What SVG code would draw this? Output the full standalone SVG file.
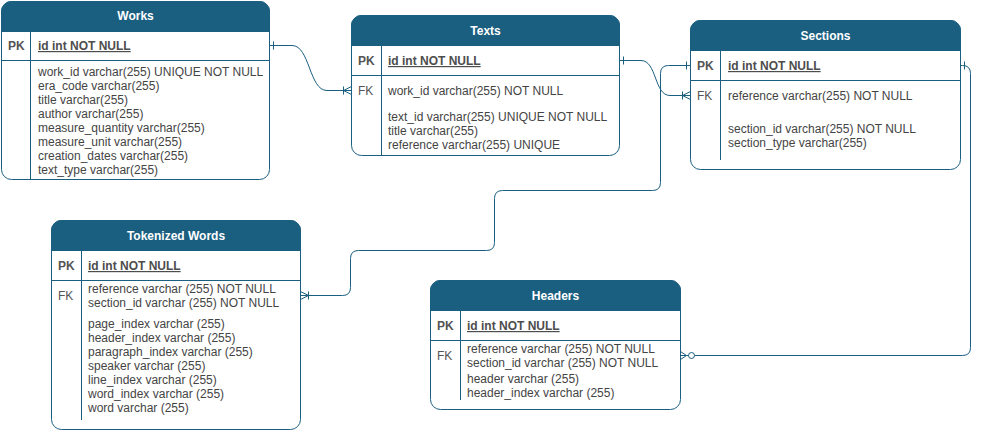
<svg xmlns="http://www.w3.org/2000/svg" width="981" height="431" viewBox="0 0 981 431">
<style>
.box{fill:#ffffff;stroke:#1a5e80;stroke-width:1}
.hdr{fill:#1a5e80;stroke:#1a5e80;stroke-width:1}
.ln{stroke:#1a5e80;stroke-width:1;fill:none}
.conn{fill:none;stroke:#1a5e80;stroke-width:1}
.mk{fill:none;stroke:#1a5e80;stroke-width:1}
text{font-family:"Liberation Sans",Arial,Helvetica,sans-serif;font-size:12px}
.title{fill:#ffffff;font-weight:bold;text-anchor:middle}
.key{fill:#555555;font-weight:bold}
.fk{fill:#555555}
.pk{fill:#4d4d4d;font-weight:bold;text-decoration:underline}
.fld{fill:#444444}
</style>
<defs>
<marker id="one" markerUnits="userSpaceOnUse" orient="auto" refX="0" refY="0" markerWidth="20" markerHeight="20" overflow="visible">
<path class="mk" d="M4,-4 V4"/>
</marker>
<marker id="oneMany" markerUnits="userSpaceOnUse" orient="auto" refX="0" refY="0" markerWidth="20" markerHeight="20" overflow="visible">
<path class="mk" d="M-8,-4 V4 M-8,0 L0,-4 M-8,0 L0,4"/>
</marker>
<marker id="zeroMany" markerUnits="userSpaceOnUse" orient="auto" refX="0" refY="0" markerWidth="20" markerHeight="20" overflow="visible">
<path class="mk" d="M-6,0 L0,-4 M-6,0 L0,4 M-6,0 H-8"/>
<circle cx="-11" cy="0" r="3" fill="#ffffff" stroke="#1a5e80" stroke-width="1"/>
</marker>
</defs>

<g id="works">
<rect class="box" x="1.5" y="1.5" width="268" height="178" rx="10"/>
<path class="hdr" d="M1.5,31.5 V11.5 A10,10 0 0 1 11.5,1.5 H259.5 A10,10 0 0 1 269.5,11.5 V31.5 Z"/>
<path class="ln" d="M1.5,60.5 H269.5 M30.5,31.5 V179.5"/>
<text class="title" x="135.5" y="20">Works</text>
<text class="key" x="8" y="50">PK</text>
<text class="pk" x="38" y="50">id int NOT NULL</text>
<text class="fld" x="38" y="76">work_id varchar(255) UNIQUE NOT NULL</text>
<text class="fld" x="38" y="90">era_code varchar(255)</text>
<text class="fld" x="38" y="104">title varchar(255)</text>
<text class="fld" x="38" y="118">author varchar(255)</text>
<text class="fld" x="38" y="132">measure_quantity varchar(255)</text>
<text class="fld" x="38" y="146">measure_unit varchar(255)</text>
<text class="fld" x="38" y="160">creation_dates varchar(255)</text>
<text class="fld" x="38" y="174">text_type varchar(255)</text>
</g>

<g id="texts">
<rect class="box" x="351.5" y="15.5" width="268" height="140" rx="10"/>
<path class="hdr" d="M351.5,45.5 V25.5 A10,10 0 0 1 361.5,15.5 H609.5 A10,10 0 0 1 619.5,25.5 V45.5 Z"/>
<path class="ln" d="M351.5,75.5 H619.5 M381.5,45.5 V155.5"/>
<text class="title" x="485.5" y="35">Texts</text>
<text class="key" x="358" y="65">PK</text>
<text class="pk" x="388" y="65">id int NOT NULL</text>
<text class="fk" x="358" y="94.5">FK</text>
<text class="fld" x="388" y="94.5">work_id varchar(255) NOT NULL</text>
<text class="fld" x="388" y="121">text_id varchar(255) UNIQUE NOT NULL</text>
<text class="fld" x="388" y="135">title varchar(255)</text>
<text class="fld" x="388" y="149">reference varchar(255) UNIQUE</text>
</g>

<g id="sections">
<rect class="box" x="690.5" y="20.5" width="270" height="149" rx="10"/>
<path class="hdr" d="M690.5,50.5 V30.5 A10,10 0 0 1 700.5,20.5 H950.5 A10,10 0 0 1 960.5,30.5 V50.5 Z"/>
<path class="ln" d="M690.5,80.5 H960.5 M720.5,50.5 V160"/>
<text class="title" x="825.5" y="40">Sections</text>
<text class="key" x="697" y="70">PK</text>
<text class="pk" x="728" y="70">id int NOT NULL</text>
<text class="fk" x="697" y="99.5">FK</text>
<text class="fld" x="728" y="99.5">reference varchar(255) NOT NULL</text>
<text class="fld" x="728" y="132.5">section_id varchar(255) NOT NULL</text>
<text class="fld" x="728" y="146.5">section_type varchar(255)</text>
</g>

<g id="tokenized-words">
<rect class="box" x="51.5" y="220.5" width="249" height="209" rx="10"/>
<path class="hdr" d="M51.5,250.5 V230.5 A10,10 0 0 1 61.5,220.5 H290.5 A10,10 0 0 1 300.5,230.5 V250.5 Z"/>
<path class="ln" d="M51.5,280.5 H300.5 M81.5,250.5 V420"/>
<text class="title" x="176" y="240">Tokenized Words</text>
<text class="key" x="58" y="270">PK</text>
<text class="pk" x="88" y="270">id int NOT NULL</text>
<text class="fk" x="58" y="300">FK</text>
<text class="fld" x="88" y="292.5">reference varchar (255) NOT NULL</text>
<text class="fld" x="88" y="306.5">section_id varchar (255) NOT NULL</text>
<text class="fld" x="88" y="327.5">page_index varchar (255)</text>
<text class="fld" x="88" y="341.5">header_index varchar (255)</text>
<text class="fld" x="88" y="355.5">paragraph_index varchar (255)</text>
<text class="fld" x="88" y="369.5">speaker varchar (255)</text>
<text class="fld" x="88" y="383.5">line_index varchar (255)</text>
<text class="fld" x="88" y="397.5">word_index varchar (255)</text>
<text class="fld" x="88" y="411.5">word varchar (255)</text>
</g>

<g id="headers">
<rect class="box" x="430.5" y="280.5" width="250" height="129" rx="10"/>
<path class="hdr" d="M430.5,310.5 V290.5 A10,10 0 0 1 440.5,280.5 H670.5 A10,10 0 0 1 680.5,290.5 V310.5 Z"/>
<path class="ln" d="M430.5,340.5 H680.5 M460.5,310.5 V400"/>
<text class="title" x="555.5" y="300">Headers</text>
<text class="key" x="437" y="330">PK</text>
<text class="pk" x="467" y="330">id int NOT NULL</text>
<text class="fk" x="437" y="359.5">FK</text>
<text class="fld" x="467" y="352.5">reference varchar (255) NOT NULL</text>
<text class="fld" x="467" y="366.5">section_id varchar (255) NOT NULL</text>
<text class="fld" x="467" y="383">header varchar (255)</text>
<text class="fld" x="467" y="397">header_index varchar (255)</text>
</g>

<g id="connectors">
<path class="conn" marker-start="url(#one)" marker-end="url(#oneMany)" d="M269.5,45.5 H292 C310,45.5 309,90.5 327,90.5 H351.5"/>
<path class="conn" marker-start="url(#one)" marker-end="url(#oneMany)" d="M619.5,60.5 H641 C657,60.5 654,95.5 670,95.5 H690.5"/>
<path class="conn" marker-start="url(#one)" marker-end="url(#oneMany)" d="M690.5,65.5 H668.5 Q660.5,65.5 660.5,73.5 V182.5 Q660.5,190.5 652.5,190.5 H502.5 Q494.5,190.5 494.5,198.5 V242.5 Q494.5,250.5 486.5,250.5 H358.5 Q350.5,250.5 350.5,258.5 V287.5 Q350.5,295.5 342.5,295.5 H300.5"/>
<path class="conn" marker-start="url(#one)" marker-end="url(#zeroMany)" d="M960.5,65.5 H962.5 Q970.5,65.5 970.5,73.5 V347.5 Q970.5,355.5 962.5,355.5 H680.5"/>
</g>
</svg>
